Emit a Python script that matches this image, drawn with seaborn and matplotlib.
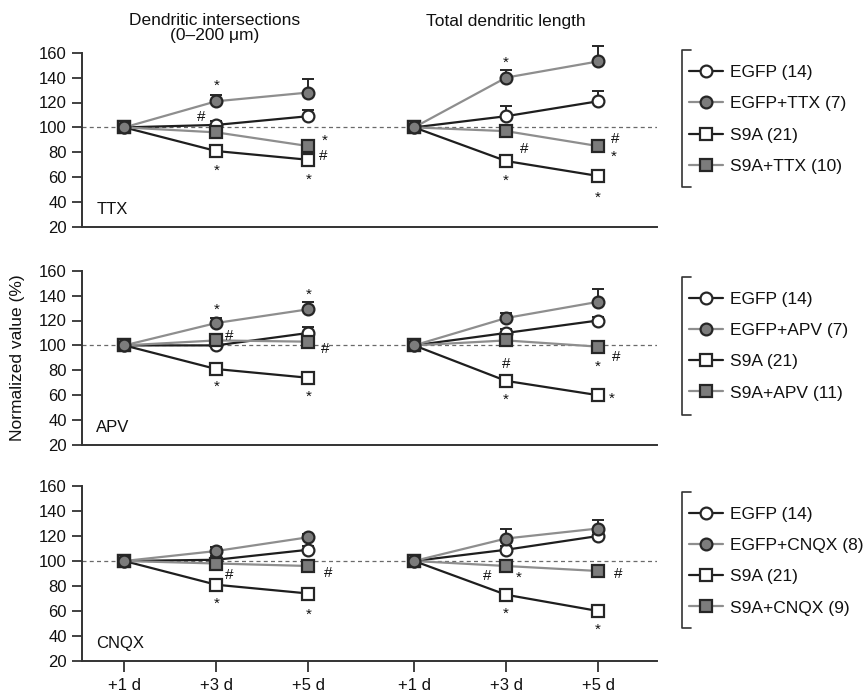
import numpy as np
import matplotlib
matplotlib.use("Agg")
import matplotlib.pyplot as plt
import seaborn as sns
from matplotlib.lines import Line2D
from matplotlib.transforms import blended_transform_factory

# ---------------- data ----------------
day_labels = ["+1 d", "+3 d", "+5 d", "+1 d", "+3 d", "+5 d"]
y_ticks = [20, 40, 60, 80, 100, 120, 140, 160]
drugs = ["TTX", "APV", "CNQX"]
groups = ["EGFP", "EGFP+{d}", "S9A", "S9A+{d}"]

# each series: 3 values for dendritic intersections, then 3 for total length
ttx_egfp = [100, 102, 109, 100, 109, 121]
ttx_egfp_drug = [100, 121, 128, 100, 140, 153]
ttx_s9a = [100, 81, 74, 100, 73, 61]
ttx_s9a_drug = [100, 96, 85, 100, 97, 85]
ttx_egfp_sem = [0, 3, 5, 0, 8, 8]
ttx_egfp_drug_sem = [0, 5, 11, 0, 6, 12]
ttx_s9a_sem = [0, 2, 2, 0, 2, 2]
ttx_s9a_drug_sem = [0, 3, 3, 0, 3, 3]
ttx_n = [14, 7, 21, 10]

apv_egfp = [100, 100, 110, 100, 110, 120]
apv_egfp_drug = [100, 118, 129, 100, 122, 135]
apv_s9a = [100, 81, 74, 100, 71.5, 60]
apv_s9a_drug = [100, 104, 103, 100, 104, 99]
apv_egfp_sem = [0, 3, 5, 0, 3, 3]
apv_egfp_drug_sem = [0, 4, 6, 0, 4, 10]
apv_s9a_sem = [0, 2, 2, 0, 2, 2]
apv_s9a_drug_sem = [0, 3, 3, 0, 3, 3]
apv_n = [14, 7, 21, 11]

cnqx_egfp = [100, 101, 109, 100, 109, 120]
cnqx_egfp_drug = [100, 108, 119, 100, 118, 126]
cnqx_s9a = [100, 81, 74, 100, 73, 60]
cnqx_s9a_drug = [100, 98, 96, 100, 96, 92]
cnqx_egfp_sem = [0, 3, 3, 0, 3, 3]
cnqx_egfp_drug_sem = [0, 3, 3, 0, 8, 7]
cnqx_s9a_sem = [0, 2, 2, 0, 2, 2]
cnqx_s9a_drug_sem = [0, 3, 3, 0, 3, 3]
cnqx_n = [14, 8, 21, 9]

panels = {
    "TTX": ([ttx_egfp, ttx_egfp_drug, ttx_s9a, ttx_s9a_drug],
            [ttx_egfp_sem, ttx_egfp_drug_sem, ttx_s9a_sem, ttx_s9a_drug_sem], ttx_n),
    "APV": ([apv_egfp, apv_egfp_drug, apv_s9a, apv_s9a_drug],
            [apv_egfp_sem, apv_egfp_drug_sem, apv_s9a_sem, apv_s9a_drug_sem], apv_n),
    "CNQX": ([cnqx_egfp, cnqx_egfp_drug, cnqx_s9a, cnqx_s9a_drug],
             [cnqx_egfp_sem, cnqx_egfp_drug_sem, cnqx_s9a_sem, cnqx_s9a_drug_sem], cnqx_n),
}

# significance marks: (series, point, symbol, dx px, dy px)
marks = {
    "TTX": [(1, 1, "*", 0, 17), (0, 1, "#", -15, 9), (2, 1, "*", 0, -18),
            (3, 2, "*", 16, 7), (3, 2, "#", 15, -9), (2, 2, "*", 0, -18),
            (1, 4, "*", 0, 17), (3, 4, "#", 18, -17), (2, 4, "*", 0, -18),
            (3, 5, "#", 17, 8), (3, 5, "*", 16, -9), (2, 5, "*", 0, -20)],
    "APV": [(1, 1, "*", 0, 15), (3, 1, "#", 13, 6), (1, 2, "*", 0, 16),
            (3, 2, "#", 17, -6), (2, 1, "*", 0, -16), (2, 2, "*", 0, -17),
            (3, 4, "#", 0, -22), (2, 4, "*", 0, -17), (3, 5, "*", 0, -18),
            (3, 5, "#", 18, -9), (2, 5, "*", 14, -2)],
    "CNQX": [(3, 1, "#", 13, -10), (3, 2, "#", 20, -6), (2, 1, "*", 0, -17),
             (2, 2, "*", 0, -19), (3, 4, "#", -19, -9), (3, 4, "*", 13, -10),
             (3, 5, "#", 20, -2), (2, 4, "*", 0, -17), (2, 5, "*", 0, -17)],
}

# ---------------- style ----------------
sns.set_style("ticks")
plt.rcParams["font.family"] = ["Liberation Sans", "DejaVu Sans"]

x_pos = [0, 1, 2, 3.15, 4.15, 5.15]
DARK = "#1e1e1e"
GRAY_LINE = "#8e8e8e"
GRAY_FILL = "#7c7c7c"
EDGE = "#262626"
AX_COL = "#333333"

styles = [
    dict(color=DARK, marker="o", mfc="white", z=4),
    dict(color=GRAY_LINE, marker="o", mfc=GRAY_FILL, z=6),
    dict(color=DARK, marker="s", mfc="white", z=3),
    dict(color=GRAY_LINE, marker="s", mfc=GRAY_FILL, z=5),
]
MS = 8.5
MEW = 1.6
LW = 1.6

W, H = 865, 693
fig = plt.figure(figsize=(W / 100, H / 100), dpi=100)

left = 82 / W
width = (657 - 82) / W
tops_px = [52.7, 270.7, 486]
bottoms_px = [227, 445, 661]

axes = []
for r, drug in enumerate(drugs):
    b = 1 - bottoms_px[r] / H
    t = 1 - tops_px[r] / H
    ax = fig.add_axes([left, b, width, t - b])
    axes.append(ax)
    values, sems, ns = panels[drug]

    ax.axhline(100, color="#6a6a6a", lw=0.9, ls=(0, (3.2, 2.6)), zorder=1)

    for k, (vals, sem) in enumerate(zip(values, sems)):
        st = styles[k]
        for half in (slice(0, 3), slice(3, 6)):
            xs = np.array(x_pos[half])
            ys = np.array(vals[half], dtype=float)
            es = np.array(sem[half], dtype=float)
            ax.errorbar(xs, ys, yerr=[np.zeros_like(es), es], fmt="none",
                        ecolor=EDGE, elinewidth=1.4, capsize=4.5, capthick=1.4,
                        zorder=st["z"] - 0.5, clip_on=False)
            sns.lineplot(x=xs, y=ys, ax=ax, color=st["color"], linewidth=LW,
                         marker=st["marker"], markersize=MS,
                         markerfacecolor=st["mfc"], markeredgecolor=EDGE,
                         markeredgewidth=MEW, errorbar=None, legend=False,
                         zorder=st["z"], clip_on=False)

    for (si, pi, sym, dx, dy) in marks[drug]:
        corr = 5.8 if sym == "*" else 5.3
        ax.annotate(sym, xy=(x_pos[pi], values[si][pi]), xycoords="data",
                    xytext=(dx, dy - corr), textcoords="offset pixels",
                    ha="center", va="baseline", fontsize=11, color="#111111",
                    zorder=10)

    ax.set_xlim(-0.46, 5.79)
    ax.set_ylim(20, 160)
    ax.set_yticks(y_ticks)
    ax.set_yticklabels([str(v) for v in y_ticks])
    sns.despine(ax=ax)
    for sp in ("left", "bottom"):
        ax.spines[sp].set_linewidth(1.4)
        ax.spines[sp].set_color(AX_COL)
    ax.tick_params(axis="y", length=7, width=1.3, color=AX_COL, pad=4,
                   labelsize=12, labelcolor="#111111")
    if r < 2:
        ax.set_xticks([])
    else:
        ax.set_xticks(x_pos)
        ax.set_xticklabels(day_labels)
        ax.tick_params(axis="x", length=8, width=1.3, color=AX_COL, pad=4,
                       labelsize=12, labelcolor="#111111")
    ax.set_xlabel("")
    ax.set_ylabel("")

    ax.text(0.025, 0.10, drug, transform=ax.transAxes, fontsize=12,
            ha="left", va="center", color="#111111")

    # legend
    handles = []
    for k in range(4):
        st = styles[k]
        handles.append(Line2D([], [], color=st["color"], lw=LW, marker=st["marker"],
                              markersize=MS, markerfacecolor=st["mfc"],
                              markeredgecolor=EDGE, markeredgewidth=MEW))
    labels = [g.format(d=drug) + f" ({n})" for g, n in zip(groups, ns)]
    first_px = [71.7, 298.3, 513.3][r]
    leg = ax.legend(handles, labels, loc="upper left",
                    bbox_to_anchor=(689 / W, 1 - (first_px - 6.8) / H),
                    bbox_transform=fig.transFigure, frameon=False,
                    fontsize=12.5, handlelength=1.95, handletextpad=0.4,
                    labelspacing=0.93, borderpad=0, borderaxespad=0)
    for txt in leg.get_texts():
        txt.set_color("#111111")

    # bracket
    btop = [50, 276.7, 491.7][r]
    bbot = [187, 415, 628.3][r]
    bx = 681.7
    fig.add_artist(Line2D([(bx + 9) / W, bx / W, bx / W, (bx + 9) / W],
                          [1 - btop / H, 1 - btop / H, 1 - bbot / H, 1 - bbot / H],
                          transform=fig.transFigure, color=AX_COL, lw=1.2))

# column titles
tr = blended_transform_factory(axes[0].transData, fig.transFigure)
axes[0].text(x_pos[1] - 0.02, 1 - 20.7 / H, "Dendritic intersections", transform=tr,
             ha="center", va="center", fontsize=12.5, color="#111111")
axes[0].text(x_pos[1] - 0.02, 1 - 35.5 / H, "(0–200 μm)", transform=tr,
             ha="center", va="center", fontsize=12.5, color="#111111")
axes[0].text(x_pos[4], 1 - 21.7 / H, "Total dendritic length", transform=tr,
             ha="center", va="center", fontsize=12.5, color="#111111")

fig.text(18 / W, 1 - 358 / H, "Normalized value (%)", rotation=90,
         ha="center", va="center", fontsize=12.5, color="#111111")

fig.savefig("out.png", dpi=100)
